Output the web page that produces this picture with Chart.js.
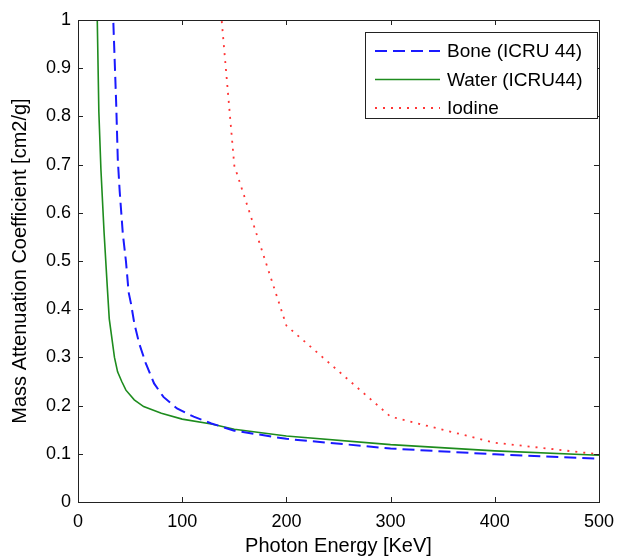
<!DOCTYPE html>
<html>
<head>
<meta charset="utf-8">
<script src="https://cdn.jsdelivr.net/npm/chart.js@4"></script>
<style>
  body { margin: 0; background: #fff; }
  #wrap { width: 623px; height: 557px; }
</style>
</head>
<body>
<div id="wrap"><canvas id="attenChart" width="623" height="557"></canvas></div>
<script>
// energies in keV, mass attenuation in cm2/g
const boneEnergyKeV = [30, 34, 36.6, 38.2, 40, 43, 46, 48.6, 51, 54, 58.7, 65, 73, 82, 95, 111, 128, 150, 200, 300, 400, 500];
const boneValues = [1.33, 0.99, 0.83, 0.71, 0.645, 0.557, 0.50, 0.435, 0.41, 0.371, 0.329, 0.288, 0.246, 0.218, 0.194, 0.177, 0.163, 0.148, 0.131, 0.111, 0.099, 0.090];
const waterEnergyKeV = [15, 18.5, 20, 22, 25, 28, 30, 35, 38, 42, 46, 54, 63, 80, 100, 128, 150, 200, 300, 400, 500];
const waterValues = [1.67, 1.0, 0.81, 0.69, 0.56, 0.45, 0.38, 0.30, 0.27, 0.25, 0.232, 0.212, 0.198, 0.184, 0.172, 0.162, 0.151, 0.137, 0.119, 0.106, 0.097];
const iodineEnergyKeV = [100, 150, 200, 300, 400, 500];
const iodineValues = [1.94, 0.698, 0.366, 0.177, 0.123, 0.099];
const seriesLabels = ['Bone (ICRU 44)', 'Water (ICRU44)', 'Iodine'];
const xTicks = [0, 100, 200, 300, 400, 500];
const yTicks = [0, 0.1, 0.2, 0.3, 0.4, 0.5, 0.6, 0.7, 0.8, 0.9, 1];

const FONT = 'Liberation Sans, Arial, sans-serif';

function toPoints(xs, ys) {
    return xs.map((x, i) => ({ x: x, y: ys[i] }));
}

// box, inward ticks on all sides, and the legend inside the axes
const matlabAxes = {
    id: 'matlabAxes',
    afterDraw(chart) {
        const ctx = chart.ctx;
        const a = chart.chartArea;
        const xs = chart.scales.x, ys = chart.scales.y;
        const tick = 5;
        ctx.save();
        ctx.strokeStyle = '#222';
        ctx.lineWidth = 1;
        ctx.beginPath();
        xTicks.forEach(v => {
            const px = Math.round(xs.getPixelForValue(v)) + 0.5;
            ctx.moveTo(px, a.bottom); ctx.lineTo(px, a.bottom - tick);
            ctx.moveTo(px, a.top); ctx.lineTo(px, a.top + tick);
        });
        yTicks.forEach(v => {
            const py = Math.round(ys.getPixelForValue(v)) + 0.5;
            ctx.moveTo(a.left, py); ctx.lineTo(a.left + tick, py);
            ctx.moveTo(a.right, py); ctx.lineTo(a.right - tick, py);
        });
        ctx.stroke();
        ctx.strokeRect(Math.round(a.left) + 0.5, Math.round(a.top) + 0.5,
            Math.round(a.right - a.left), Math.round(a.bottom - a.top));

        // legend
        const bx = 365, by = 32, bw = 232, bh = 86;
        ctx.fillStyle = '#fff';
        ctx.fillRect(bx, by, bw, bh);
        ctx.strokeRect(bx + 0.5, by + 0.5, bw, bh);
        ctx.font = '19px ' + FONT;
        ctx.textBaseline = 'middle';
        ctx.textAlign = 'left';
        chart.data.datasets.forEach((ds, i) => {
            const ly = by + 19 + i * 28.5;
            ctx.save();
            ctx.strokeStyle = ds.borderColor;
            ctx.lineWidth = ds.borderWidth;
            ctx.setLineDash(ds.borderDash || []);
            ctx.beginPath();
            ctx.moveTo(bx + 10, ly);
            ctx.lineTo(bx + 75, ly);
            ctx.stroke();
            ctx.restore();
            ctx.fillStyle = '#000';
            ctx.fillText(ds.label, bx + 82, ly + 1);
        });
        ctx.restore();
    }
};

const ctx = document.getElementById('attenChart').getContext('2d');
const chart = new Chart(ctx, {
    type: 'line',
    data: {
        datasets: [{
            label: seriesLabels[0],
            data: toPoints(boneEnergyKeV, boneValues),
            borderColor: '#1a1aff',
            borderWidth: 2,
            borderDash: [12, 6],
            pointRadius: 0,
            tension: 0,
            fill: false
        }, {
            label: seriesLabels[1],
            data: toPoints(waterEnergyKeV, waterValues),
            borderColor: 'rgb(30,140,30)',
            borderWidth: 1.6,
            pointRadius: 0,
            tension: 0,
            fill: false
        }, {
            label: seriesLabels[2],
            data: toPoints(iodineEnergyKeV, iodineValues),
            borderColor: '#ff3535',
            borderWidth: 1.8,
            borderDash: [2, 6],
            pointRadius: 0,
            tension: 0,
            fill: false
        }]
    },
    options: {
        responsive: false,
        animation: false,
        layout: { padding: { top: 20, right: 17, left: 0, bottom: 0 } },
        plugins: {
            legend: { display: false },
            tooltip: { enabled: false }
        },
        scales: {
            x: {
                type: 'linear',
                min: 0,
                max: 500,
                grid: { display: false, drawTicks: false },
                border: { display: false },
                afterBuildTicks: s => { s.ticks = xTicks.map(v => ({ value: v })); },
                afterFit: s => { s.height = 55; },
                ticks: {
                    autoSkip: false,
                    maxRotation: 0,
                    padding: 9,
                    color: '#000',
                    font: { family: FONT, size: 18 }
                },
                title: {
                    display: true,
                    text: 'Photon Energy [KeV]',
                    color: '#000',
                    padding: 0,
                    font: { family: FONT, size: 20, lineHeight: 1.05 }
                }
            },
            y: {
                min: 0,
                max: 1,
                grid: { display: false, drawTicks: false },
                border: { display: false },
                afterBuildTicks: s => { s.ticks = yTicks.map(v => ({ value: v })); },
                afterFit: s => { s.width = 78; },
                ticks: {
                    autoSkip: false,
                    padding: 7,
                    color: '#000',
                    font: { family: FONT, size: 18 },
                    callback: v => String(Math.round(v * 10) / 10)
                },
                title: {
                    display: true,
                    text: 'Mass Attenuation Coefficient [cm2/g]',
                    color: '#000',
                    padding: { top: 8, bottom: 0 },
                    font: { family: FONT, size: 20 }
                }
            }
        }
    },
    plugins: [matlabAxes]
});
</script>
</body>
</html>
